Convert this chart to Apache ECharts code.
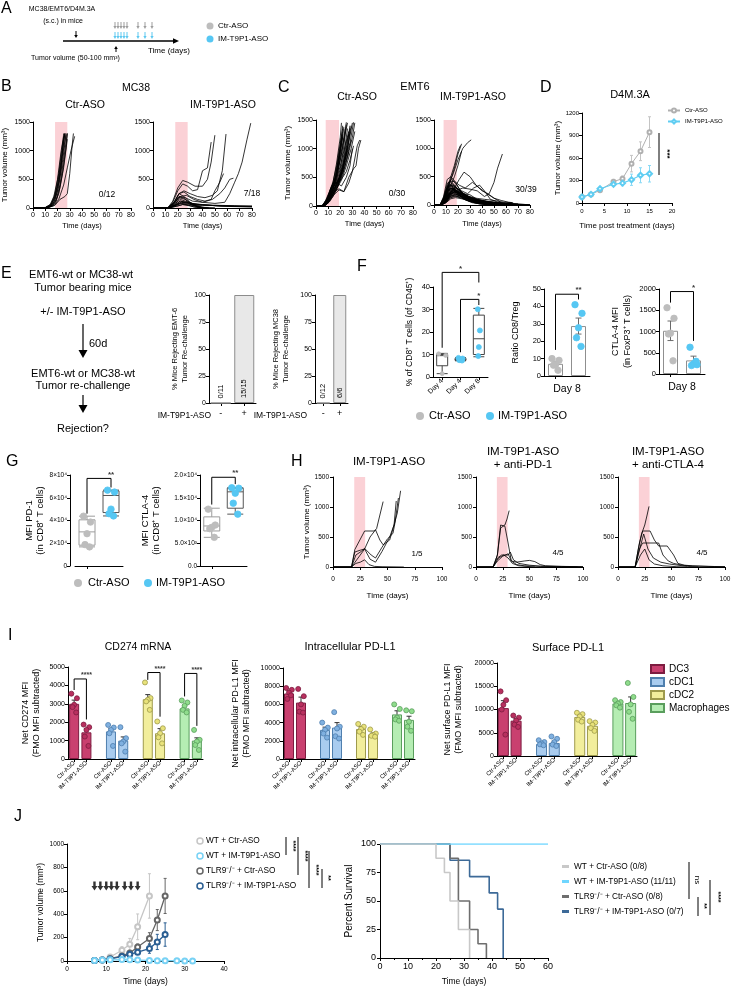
<!DOCTYPE html>
<html>
<head>
<meta charset="utf-8">
<script src="https://cdn.jsdelivr.net/npm/echarts/dist/echarts.min.js"></script>
<style>
html,body{margin:0;padding:0;background:#fff;}
#chart{width:733px;height:989px;}
</style>
</head>
<body>
<div id="chart"></div>
<script>
// ================= DATA =================
// Panel B: MC38 individual tumour curves, each line = [day, mm3, day, mm3, ...]
const mc38CtrLines = [
 [0,0,10,5,14,30,17,100,20,300,23,700,25,1300],
 [0,0,10,5,14,40,17,150,20,400,23,850,26,1300],
 [0,0,10,5,15,50,18,180,21,450,24,900,27,1300],
 [0,0,11,5,15,40,18,140,21,380,24,800,27,1280],
 [0,0,10,5,14,60,17,200,20,500,23,1000,25,1250],
 [0,0,11,5,15,30,18,100,21,250,24,600,27,1050,28,1300],
 [0,0,10,5,14,40,18,200,21,500,24,950,26,1300],
 [0,0,11,5,16,50,19,150,22,400,25,850,28,1300],
 [0,0,12,5,16,40,19,120,22,350,25,700,28,1200],
 [0,0,10,10,15,70,18,250,21,600,24,1100,26,1300],
 [0,0,12,5,18,50,22,150,26,200,28,250,30,600,32,1100,33,1300],
 [0,0,12,5,17,40,21,150,25,400,28,700,31,1000,34,1250]
];
const mc38ImLines = [
 [0,0,12,2,16,100,20,300,24,420,28,380,32,300,36,320,40,650,44,700,47,1150],
 [0,0,12,2,16,120,20,350,24,480,28,450,34,380,40,380,44,500,47,800,50,1270],
 [0,0,12,2,17,80,21,250,25,300,30,250,36,200,42,180,48,220,52,300,56,650,59,1290],
 [0,0,12,2,17,60,21,200,26,180,32,120,40,100,48,150,54,250,58,350,62,500,65,520],
 [0,0,13,2,18,60,22,200,27,220,33,150,40,100,50,80,58,100,62,250,66,450,69,600,72,800,76,1200,79,1480],
 [0,0,12,2,17,100,21,250,25,280,30,200,36,150,42,120,47,150,50,300,54,450,57,600],
 [0,0,13,2,18,80,22,150,26,120,32,80,40,60,50,40,60,30,70,25,80,20],
 [0,0,13,2,18,50,22,120,27,100,34,70,42,50,52,40,62,35,72,30,80,25],
 [0,0,13,2,19,60,23,100,28,90,36,60,46,50,56,45,66,40,80,35],
 [0,0,13,2,18,40,23,80,28,70,35,60,45,50,55,30,65,25,80,20],
 [0,0,13,2,19,30,24,60,30,50,40,40,50,45,60,40,70,30,80,30],
 [0,0,12,2,17,100,21,250,25,200,30,100,35,40,40,10,50,0],
 [0,0,12,2,17,80,21,180,26,150,31,70,36,20,42,0],
 [0,0,13,2,18,60,22,120,27,100,32,50,38,10,45,0],
 [0,0,13,2,18,50,23,100,28,80,34,30,40,5,50,0],
 [0,0,13,2,18,40,22,80,27,60,33,20,40,0],
 [0,0,13,2,19,30,24,60,29,40,35,10,45,0],
 [0,0,12,2,17,90,21,200,25,170,30,90,36,30,44,0]
];
const mc38Shade = [18, 28];

// Panel C: EMT6 individual tumour curves
const emt6CtrLines = [
 [0,0,5,0,8,60,11,150,14,300,17,600,20,1000,22,1400],
 [0,0,5,0,8,80,11,200,14,400,17,750,20,1200,21,1450],
 [0,0,5,0,8,50,12,180,15,350,18,650,21,1050,23,1380],
 [0,0,6,0,9,70,12,200,16,420,19,800,22,1300],
 [0,0,5,0,8,100,11,250,14,420,17,700,20,1100,22,1350],
 [0,0,6,0,9,60,12,160,16,330,20,650,23,1050,25,1420],
 [0,0,5,0,8,90,11,220,15,380,18,600,21,900,24,1300,25,1460],
 [0,0,6,0,9,50,13,170,16,300,19,500,23,900,26,1350],
 [0,0,5,0,9,80,12,250,15,450,18,750,20,1000,22,1200],
 [0,0,6,0,10,100,13,300,16,500,20,800,24,1250,26,1450],
 [0,0,6,0,9,40,13,150,17,280,21,550,25,950,28,1400],
 [0,0,5,0,8,70,12,200,16,400,20,700,24,1050,27,1300],
 [0,0,6,0,9,60,13,220,17,380,21,600,25,900,29,1400],
 [0,0,6,0,10,80,14,280,18,420,22,650,26,1000,30,1450],
 [0,0,5,0,9,100,12,300,16,380,20,500,24,800,28,1100,31,1460],
 [0,0,6,0,10,70,14,200,18,350,22,550,26,850,30,1200,32,1450],
 [0,0,6,0,9,50,13,180,17,300,21,450,25,700,29,1000,32,1300],
 [0,0,7,0,10,60,14,220,18,400,22,600,26,900,29,1150],
 [0,0,6,0,10,90,14,250,18,380,22,500,25,600,28,800,31,1050],
 [0,0,5,0,9,120,13,350,17,400,21,350,25,500,28,700,30,1000],
 [0,0,6,0,10,150,14,400,18,420,22,600,26,1000,28,1300],
 [0,0,7,0,11,100,15,250,19,300,23,250,27,400,30,600,34,1050,36,1150],
 [0,0,7,0,11,80,15,200,19,280,23,250,27,500,31,650,33,700,35,1000,37,1150],
 [0,0,6,0,10,100,13,300,16,500,19,900,21,1200],
 [0,0,6,0,10,80,14,300,17,550,20,950,22,1250],
 [0,0,5,0,9,60,13,250,17,450,20,850,23,1200,24,1350],
 [0,0,6,0,10,50,14,200,18,350,22,700,25,1100,27,1250],
 [0,0,7,0,11,100,15,300,19,500,23,800,26,1050],
 [0,0,6,0,10,130,13,350,16,380,20,450,24,700,27,950],
 [0,0,7,0,11,70,15,200,19,420,23,750,26,1150,28,1350]
];
const emt6ImLines = [
 [0,0,5,0,8,100,11,300,14,500,17,700,20,950,22,1050],
 [0,0,5,0,8,80,11,250,14,450,17,650,20,900,23,1080],
 [0,0,5,0,8,120,12,350,16,550,20,800,24,1000,28,1100,31,1150],
 [0,0,6,0,9,100,13,300,17,500,20,700,23,950],
 [0,0,5,0,9,80,13,200,17,300,21,450,25,580,30,500,35,350,40,250,45,200,50,120,55,60],
 [0,0,6,0,10,60,14,180,18,250,24,300,30,280,36,250,42,150,46,200,50,400,53,650,57,900],
 [0,0,5,0,9,120,13,400,17,420,21,350,26,300,32,400,38,300,44,200,50,120,56,80,62,50,66,40],
 [0,0,6,0,10,90,14,250,18,300,23,250,28,200,33,300,38,350,42,250,47,100,53,50,60,30,64,40],
 [0,0,6,0,10,60,14,200,18,230,23,200,29,150,35,120,42,100,50,80,58,50,65,40],
 [0,0,6,0,10,80,14,220,19,250,24,200,30,180,36,100,44,60,52,40,60,30,70,20],
 [0,0,5,0,8,100,11,300,14,350,18,250,23,150,28,80,35,30,45,0],
 [0,0,5,0,8,80,11,250,15,300,19,200,24,120,30,60,38,20,50,0],
 [0,0,5,0,8,120,12,400,15,450,19,350,24,200,30,100,38,40,48,0],
 [0,0,6,0,9,90,12,280,16,300,20,230,25,150,31,80,40,30,55,0],
 [0,0,6,0,9,60,12,200,16,250,20,200,25,130,32,60,42,20,60,0],
 [0,0,5,0,8,150,11,450,14,500,18,400,22,250,27,120,34,50,44,10,58,0],
 [0,0,5,0,9,100,12,300,16,330,20,260,26,170,33,90,42,40,55,10,70,0],
 [0,0,6,0,9,70,13,220,17,260,22,200,28,120,35,70,45,30,60,5,75,0],
 [0,0,6,0,10,50,13,180,17,200,21,170,27,110,35,60,45,20,60,0],
 [0,0,5,0,8,130,11,380,14,420,18,330,23,220,29,120,36,50,46,10,62,0],
 [0,0,6,0,9,80,12,250,16,280,20,220,26,150,33,90,42,50,52,20,66,0],
 [0,0,6,0,10,60,14,160,18,180,23,150,29,100,37,50,48,15,65,0],
 [0,0,5,0,9,110,12,320,16,350,20,280,25,200,31,120,39,60,50,20,68,0],
 [0,0,6,0,10,40,14,130,18,150,23,120,30,70,40,30,55,0],
 [0,0,5,0,8,90,12,260,15,300,19,230,24,160,30,90,38,40,50,10,64,0],
 [0,0,6,0,9,50,13,150,17,170,22,130,28,80,36,40,48,10,60,0],
 [0,0,6,0,10,70,14,200,18,220,23,180,29,130,36,80,46,40,58,15,72,0],
 [0,0,5,0,9,140,12,350,15,380,19,300,24,210,30,140,38,80,48,40,60,15,78,0],
 [0,0,6,0,10,60,14,170,18,190,22,160,28,110,35,70,45,40,58,20,75,0],
 [0,0,5,0,8,110,11,320,14,360,17,280,21,170,26,90,32,40,42,10,55,0],
 [0,0,6,0,9,90,13,260,17,280,21,220,27,150,34,100,44,60,56,30,70,10,80,0],
 [0,0,6,0,10,80,14,230,18,260,23,210,29,150,36,100,46,60,60,30,75,10,80,5],
 [0,0,5,0,9,70,13,200,17,230,22,190,28,130,35,90,44,50,55,25,68,10,80,0],
 [0,0,6,0,10,50,14,140,18,160,23,140,29,100,37,60,48,30,62,10,78,0],
 [0,0,5,0,9,100,12,280,16,300,20,240,26,160,33,110,42,70,52,40,64,20,80,5],
 [0,0,6,0,9,120,12,330,15,360,19,290,24,200,30,130,38,70,48,30,62,10,76,0],
 [0,0,6,0,10,40,14,110,18,130,23,110,30,70,40,30,52,10,65,0],
 [0,0,5,0,8,70,12,190,16,220,20,180,26,120,33,70,43,30,55,10,68,0],
 [0,0,5,0,9,90,13,240,16,260,20,210,25,140,31,80,40,30,50,10,63,0]
];
const emt6Shade = [8, 19];

// Panel D: D4M.3A mean ± SEM
const d4Days = [0, 2, 4, 7, 9, 11, 13, 15];
const d4Ctr = [80, 115, 170, 285, 325, 525, 690, 945];
const d4CtrErr = [10, 15, 20, 30, 35, 110, 125, 205];
const d4Im = [80, 115, 190, 250, 265, 310, 370, 390];
const d4ImErr = [10, 15, 20, 30, 35, 75, 100, 110];

// Panel E: re-challenge
const eCats = ['-', '+'];
const eEmt6 = [0, 100];
const eEmt6Lbl = ['0/11', '15/15'];
const eMc38 = [0, 100];
const eMc38Lbl = ['0/12', '6/6'];

// Panel F
const f1Cats = ['Day 4', 'Day 4', 'Day 8'];
const f1Box = [[1.5, 5, 9.5, 10, 10.5], [7.2, 7.4, 7.8, 8.3, 8.6], [9, 10, 17, 27.5, 30.5]];
const f1CtrD4 = [10.3, 9.6, 1.5];
const f1ImD4 = [8.5, 8.2, 7.8, 7.5, 7.3];
const f1ImD8 = [30.1, 20.7, 13.3, 9.3];
const f1Sig = [[0, 2, 46.5, 13, 42, '*'], [1, 2, 34.5, 11, 32, '*']];
const f2Cats = ['Ctr-ASO', 'IM-T9P1-ASO'];
const f2Mean = [7, 28.7];
const f2Err = [1.2, 4.6];
const f2Ctr = [10, 9, 6.7, 6.2, 3.3];
const f2Im = [41, 36, 27.7, 22, 17];
const f2Sig = [0, 1, 47, 15, 44, '**'];
const f3Mean = [1017, 320];
const f3Err = [230, 100];
const f3Ctr = [1560, 1310, 960, 940, 310];
const f3Im = [630, 220, 240, 200, 300];
const f3Sig = [0, 1, 1940, 1680, 780, '*'];

// Panel G
const gCats = ['Ctr-ASO', 'IM-T9P1-ASO'];
const gPdBox = [[16800, 18300, 30000, 40600, 43800], [44000, 47000, 62000, 66000, 66700]];
const gPdCtr = [43800, 38600, 28400, 18800, 16800];
const gPdIm = [66700, 65000, 50000, 46000, 44000];
const gPdTicks = ['0', '2×10⁴', '4×10⁴', '6×10⁴', '8×10⁴'];
const gPdSig = [0, 1, 77000, 46000, 69000, '**'];
const gCtBox = [[6300, 7700, 8800, 10800, 12700], [11400, 12700, 16300, 17100, 17200]];
const gCtCtr = [12500, 9000, 8500, 8200, 6300];
const gCtIm = [17200, 17100, 16000, 13800, 11400];
const gCtTicks = ['0.0', '5.0×10³', '1.0×10⁴', '1.5×10⁴', '2.0×10⁴'];
const gCtSig = [0, 1, 19500, 13500, 18000, '**'];

// Panel H: individual curves (5 mice each)
const hImLines = [
 [0,0,17,0,20,290,29,600,38,600,40,640,46,1090],
 [0,0,17,0,20,250,25,280,29,300,34,500,39,620,43,450,46,370,52,450,56,700,58,1100],
 [0,0,17,0,21,200,26,260,29,310,35,200,39,150,45,330,50,470,55,560,57,750,60,1150],
 [0,0,17,0,21,100,25,200,29,300,34,130,39,80,45,260,52,500,56,700,59,900,62,1270],
 [0,0,17,0,21,60,25,80,29,120,33,40,38,10,45,5,65,0]
];
const hPd1Lines = [
 [0,0,16,0,20,200,23,650,27,700,29,800,31,940],
 [0,0,16,0,20,200,23,700,27,680,30,400,33,100,38,80,45,100,50,110,55,90,60,40,65,20,80,10,100,5],
 [0,0,16,0,20,150,24,200,30,200,32,250,35,120,40,60,50,30,60,15,75,10,100,5],
 [0,0,16,0,20,100,25,180,30,220,33,100,38,40,45,20,60,10,80,5,95,0],
 [0,0,16,0,21,150,26,200,30,150,34,60,40,20,55,0]
];
const hCtlaLines = [
 [0,0,16,0,19,300,22,550,25,700,27,850,29,1010],
 [0,0,16,0,20,400,23,600,30,600,34,450,38,350,46,350,52,200,56,60,62,30,70,20,85,10,100,5],
 [0,0,16,0,20,300,23,400,38,400,42,200,47,100,52,60,60,30,70,15,90,8,100,5],
 [0,0,16,0,21,350,24,550,28,300,33,150,40,80,48,50,56,30,65,10,75,0],
 [0,0,16,0,21,200,25,300,29,120,34,50,42,20,55,5,65,0]
];
const hShade = [19.5, 29.5];

// Panel I
const iGroups = ['DC3', 'cDC1', 'cDC2', 'Macrophages'];
const iCats = ['Ctr-ASO','IM-T9P1-ASO','','Ctr-ASO','IM-T9P1-ASO','','Ctr-ASO','IM-T9P1-ASO','','Ctr-ASO','IM-T9P1-ASO'];
const iSlots = [[0, 1], [3, 4], [6, 7], [9, 10]];
const cd274Mean = [[3000, 1450], [1500, 1000], [3250, 1400], [2750, 1000]];
const cd274Err = [[200, 200], [150, 200], [250, 250], [150, 150]];
const cd274Pts = [
 [[3550, 3300, 2950, 2820, 2530], [1870, 1730, 1580, 1220, 710]],
 [[1850, 1710, 1580, 1400, 710], [1730, 1130, 950, 850, 400]],
 [[4160, 3310, 3220, 3130, 2670], [2040, 1670, 1400, 1180, 850]],
 [[3180, 3070, 2890, 2670, 2530], [1580, 1040, 950, 760, 490]]
];
const cd274Sig = [[0, 1, 4350, 3750, 2150, '****'], [6, 7, 4700, 4300, 2300, '****'], [9, 10, 4650, 3400, 1800, '****']];
const icMean = [[7200, 6200], [3200, 3450], [3300, 2700], [4900, 4300]];
const icErr = [[300, 600], [300, 550], [250, 150], [400, 400]];
const icPts = [
 [[7800, 7600, 7300, 6600, 7000], [7700, 6900, 6000, 5200, 5100]],
 [[4000, 3450, 3200, 2800, 2350], [5150, 3550, 3350, 2500, 2250]],
 [[3850, 3550, 3300, 3000, 2650], [3250, 2800, 2650, 2550, 2450]],
 [[6000, 5500, 4550, 4350, 4200], [5350, 5250, 4100, 3550, 3100]]
];
const sfMean = [[10300, 7600], [2600, 2800], [8400, 6500], [11300, 11400]];
const sfErr = [[1600, 500], [250, 400], [300, 400], [400, 1300]];
const sfPts = [
 [[13900, 12000, 11000, 10000, 4600], [8700, 8250, 7650, 6750, 6250]],
 [[3400, 3000, 2700, 2500, 2300], [4200, 3700, 3000, 2450, 2150]],
 [[9300, 9000, 8500, 7800, 7400], [7500, 7200, 6700, 6000, 5400]],
 [[12000, 11600, 11300, 10900, 10400], [15700, 12700, 11100, 9500, 8000]]
];

// Panel J (left): mean ± SEM tumour volume
const jNames = ['WT + Ctr-ASO', 'WT + IM-T9P1-ASO', 'TLR9⁻/⁻ + Ctr-ASO', 'TLR9⁻/⁻ + IM-T9P1-ASO'];
const jWtCtrDays = [7, 9, 11, 14, 16, 18, 21];
const jWtCtr = [5, 10, 34, 92, 143, 292, 556];
const jWtCtrErr = [2, 4, 8, 30, 50, 110, 190];
const jWtImDays = [7, 9, 11, 14, 16, 18, 21, 23, 25, 28, 30, 32];
const jWtIm = [5, 8, 10, 12, 10, 8, 5, 3, 2, 2, 1, 1];
const jWtImErr = [2, 3, 4, 5, 5, 4, 3, 2, 1, 1, 1, 1];
const jTlrDays = [7, 9, 11, 14, 16, 18, 21, 23, 25];
const jTlrCtr = [5, 8, 20, 43, 69, 120, 192, 350, 556];
const jTlrCtrErr = [2, 3, 6, 12, 18, 25, 50, 90, 150];
const jTlrIm = [5, 8, 18, 38, 57, 75, 106, 163, 226];
const jTlrImErr = [2, 3, 5, 10, 15, 20, 40, 65, 100];
const jTreatDays = [7, 8.5, 10, 11.3, 12.7, 14.7, 16.3, 18];
// Panel J (right): Kaplan-Meier survival
const kmNames = ['WT + Ctr-ASO (0/8)', 'WT + IM-T9P1-ASO (11/11)', 'TLR9⁻/⁻ + Ctr-ASO (0/8)', 'TLR9⁻/⁻ + IM-T9P1-ASO (0/7)'];
const kmWtCtr = [[0, 100], [20, 87.5], [23, 75], [25, 50], [28, 25], [32, 0]];
const kmWtIm = [[0, 100], [60, 100]];
const kmTlrCtr = [[0, 100], [25, 87.5], [28, 50], [32, 25], [35, 12.5], [38, 0]];
const kmTlrIm = [[0, 100], [25, 85.7], [32, 71.4], [39, 57.1], [42, 42.9], [44, 0]];

// ================= BUILD =================
const FONT = '"Liberation Sans", Arial, Helvetica, sans-serif';
const grid = [], xAxis = [], yAxis = [], series = [], graphic = [], legend = [];
const GRAY = '#bdbdbd', BLUE = '#56c7f3';

function merge(a, b) {
  for (const k in b) {
    const v = b[k];
    if (v && typeof v === 'object' && !Array.isArray(v) && a[k] && typeof a[k] === 'object' && !Array.isArray(a[k])) merge(a[k], v);
    else a[k] = v;
  }
  return a;
}
function addGrid(l, t, w, h) { grid.push({left: l, top: t, width: w, height: h, containLabel: false, outerBoundsMode: 'none'}); return grid.length - 1; }
function plain(v) { return String(v); }
function baseAxis(gi, type) {
  return {gridIndex: gi, type: type,
    axisLine: {show: true, onZero: false, lineStyle: {color: '#000', width: 1}},
    axisTick: {show: true, inside: false, length: 3, lineStyle: {color: '#000', width: 1}},
    axisLabel: {show: true, fontSize: 7, color: '#000', fontFamily: FONT, margin: 3, formatter: plain},
    splitLine: {show: false}, splitArea: {show: false},
    nameTextStyle: {fontSize: 8, color: '#000', fontFamily: FONT}};
}
function addX(gi, type, o) { xAxis.push(merge(baseAxis(gi, type), o || {})); return xAxis.length - 1; }
function addY(gi, type, o) { yAxis.push(merge(baseAxis(gi, type), o || {})); return yAxis.length - 1; }

function T(x, y, text, size, o) {
  o = o || {};
  const st = {text: text, fill: o.color || '#000', fontSize: size, fontFamily: FONT, fontWeight: o.bold ? 'bold' : 'normal',
    align: o.align || 'center', verticalAlign: o.va || 'middle'};
  if (o.lh) st.lineHeight = o.lh;
  graphic.push({type: 'text', x: x, y: y, rotation: o.rot || 0, silent: true, z: 100, style: st});
}
function L(x1, y1, x2, y2, color, w) {
  graphic.push({type: 'line', silent: true, z: 100, shape: {x1: x1, y1: y1, x2: x2, y2: y2}, style: {stroke: color || '#000', lineWidth: w || 1}});
}
function P(points, color) { graphic.push({type: 'polygon', silent: true, z: 100, shape: {points: points}, style: {fill: color || '#000'}}); }
function Cir(cx, cy, r, fill, stroke, lw) {
  graphic.push({type: 'circle', silent: true, z: 100, shape: {cx: cx, cy: cy, r: r}, style: {fill: fill, stroke: stroke || null, lineWidth: lw || 0}});
}
function arrowDown(x, y1, y2, color, hw) { hw = hw || 1.8; L(x, y1, x, y2 - 2, color, 1); P([[x - hw, y2 - 3], [x + hw, y2 - 3], [x, y2]], color); }
function arrowUp(x, y1, y2, color, hw) { hw = hw || 1.8; L(x, y1 + 2, x, y2, color, 1); P([[x - hw, y1 + 3], [x + hw, y1 + 3], [x, y1]], color); }

function spaghetti(xi, yi, lines, shade) {
  lines.forEach(function (l, n) {
    const d = [];
    for (let i = 0; i < l.length; i += 2) d.push([l[i], l[i + 1]]);
    const s = {type: 'line', xAxisIndex: xi, yAxisIndex: yi, data: d, symbol: 'none', silent: true, z: 3,
      lineStyle: {color: '#000', width: 0.8}};
    if (n === 0) s.markArea = {silent: true, z: 1, itemStyle: {color: '#fbd1d6'}, data: [[{xAxis: shade[0]}, {xAxis: shade[1]}]]};
    series.push(s);
  });
}
function tumorPanel(l, t, w, h, xmax, xint, lines, shade, yName, o) {
  const g = addGrid(l, t, w, h);
  const xi = addX(g, 'value', {min: 0, max: xmax, interval: xint, name: 'Time (days)', nameLocation: 'middle', nameGap: o.xGap,
    nameTextStyle: {fontSize: o.xnfs || 8}, axisLabel: {fontSize: o.fs, margin: o.xm || 4}});
  const yi = addY(g, 'value', {min: 0, max: 1500, interval: 500, name: yName, nameLocation: 'middle', nameGap: o.yGap,
    nameTextStyle: {fontSize: o.nfs || 8}, axisLabel: {fontSize: o.fs, margin: o.ym || 3}});
  spaghetti(xi, yi, lines, shade);
}
function errBars(xi, yi, xs, means, errs, color, both, cap, lw) {
  const data = xs.map(function (x, i) { return [x, means[i], errs[i]]; });
  series.push({type: 'custom', xAxisIndex: xi, yAxisIndex: yi, silent: true, z: 4, data: data,
    renderItem: function (p, api) {
      const x = api.value(0), m = api.value(1), e = api.value(2);
      const a = api.coord([x, m + e]), b = api.coord([x, both ? m - e : m]);
      const st = {stroke: color, lineWidth: lw || 1};
      const ch = [{type: 'line', shape: {x1: a[0], y1: a[1], x2: b[0], y2: b[1]}, style: st},
                  {type: 'line', shape: {x1: a[0] - cap, y1: a[1], x2: a[0] + cap, y2: a[1]}, style: st}];
      if (both) ch.push({type: 'line', shape: {x1: b[0] - cap, y1: b[1], x2: b[0] + cap, y2: b[1]}, style: st});
      return {type: 'group', children: ch};
    }});
}
const JIT = [-3.5, 3.5, 0, -2, 2.5, -4, 4];
function dots(xi, yi, x, vals, o) {
  series.push({type: 'scatter', xAxisIndex: xi, yAxisIndex: yi, silent: true, z: 6, symbol: 'circle', symbolSize: o.size,
    itemStyle: {color: o.fill, borderColor: o.stroke || o.fill, borderWidth: o.bw || 0.8, opacity: 1},
    data: vals.map(function (v, i) { return {value: [x, v], symbolOffset: [JIT[i % JIT.length] * (o.j === undefined ? 1 : o.j), 0]}; })});
}
function sig(xi, yi, s, fs) {
  series.push({type: 'line', xAxisIndex: xi, yAxisIndex: yi, data: [[s[0], s[3]], [s[0], s[2]], [s[1], s[2]], [s[1], s[4]]],
    symbol: 'none', clip: false, silent: true, z: 5, lineStyle: {color: '#000', width: 1}});
  series.push({type: 'scatter', xAxisIndex: xi, yAxisIndex: yi, data: [[(s[0] + s[1]) / 2, s[2]]], symbolSize: 0, clip: false, silent: true, z: 5,
    label: {show: true, position: 'top', distance: 0, formatter: s[5], fontSize: fs || 8, color: '#000', fontFamily: FONT, fontWeight: 'bold'}});
}

// ---------- Panel A ----------
T(1, 1, 'A', 16, {align: 'left', va: 'top'});
T(62, 9, 'MC38/EMT6/D4M.3A', 7);
T(63, 21, '(s.c.) in mice', 7);
arrowDown(76, 31, 38, '#000');
L(63, 41, 174, 41, '#000', 1.3);
P([[173, 38.3], [179, 41], [173, 43.7]], '#000');
[115, 118, 121, 124, 127, 138, 145, 152].forEach(function (x) { arrowDown(x, 22, 29, '#9d9d9d', 1.6); arrowDown(x, 32, 39, '#5cc8f0', 1.6); });
arrowUp(116, 46, 52, '#000');
T(148, 51, 'Time (days)', 8, {align: 'left'});
T(31, 58, 'Tumor volume (50-100 mm³)', 7, {align: 'left'});
Cir(210, 26, 3.5, GRAY); T(218, 26, 'Ctr-ASO', 8, {align: 'left'});
Cir(210, 39, 3.5, BLUE); T(218, 39, 'IM-T9P1-ASO', 8, {align: 'left'});

// ---------- Panel B ----------
T(1, 79, 'B', 16, {align: 'left', va: 'top'});
T(136, 88, 'MC38', 10.5);
T(85, 105, 'Ctr-ASO', 10.5);
T(223, 105, 'IM-T9P1-ASO', 10.5);
const bcOpt = {xGap: 14, yGap: 24, fs: 7, xnfs: 7.5, nfs: 8};
tumorPanel(33, 122, 98, 86, 80, 10, mc38CtrLines, mc38Shade, 'Tumor volume (mm³)', bcOpt);
tumorPanel(153, 122, 99, 86, 80, 10, mc38ImLines, mc38Shade, '', bcOpt);
T(107, 195, '0/12', 8.5);
T(252, 194, '7/18', 8.5);

// ---------- Panel C ----------
T(278, 80, 'C', 16, {align: 'left', va: 'top'});
T(415, 87, 'EMT6', 11);
T(357, 97, 'Ctr-ASO', 10.5);
T(473, 97, 'IM-T9P1-ASO', 10.5);
tumorPanel(316, 120, 97, 86, 80, 10, emt6CtrLines, emt6Shade, 'Tumor volume (mm³)', bcOpt);
tumorPanel(434, 120, 96, 85, 80, 10, emt6ImLines, emt6Shade, '', {xGap: 15, yGap: 24, fs: 7, xnfs: 7.5});
T(397, 194, '0/30', 8.5);
T(526, 190, '30/39', 8.5);

// ---------- Panel D ----------
T(540, 80, 'D', 16, {align: 'left', va: 'top'});
T(630, 95, 'D4M.3A', 11);
const gD = addGrid(582, 113, 90, 90);
const xD = addX(gD, 'value', {min: 0, max: 20, interval: 5, axisLabel: {fontSize: 6, margin: 5}, name: 'Time post treatment (days)', nameLocation: 'middle', nameGap: 19, nameTextStyle: {fontSize: 8}});
const yD = addY(gD, 'value', {min: 0, max: 1200, interval: 300, axisLabel: {fontSize: 6}, name: 'Tumor volume (mm³)', nameLocation: 'middle', nameGap: 17, nameTextStyle: {fontSize: 8}});
errBars(xD, yD, d4Days, d4Ctr, d4CtrErr, '#c4c4c4', true, 1.5);
errBars(xD, yD, d4Days, d4Im, d4ImErr, '#8ad9f5', true, 1.5);
series.push({type: 'line', name: 'Ctr-ASO', xAxisIndex: xD, yAxisIndex: yD, silent: true, z: 5,
  data: d4Days.map(function (d, i) { return [d, d4Ctr[i]]; }), symbol: 'emptyCircle', symbolSize: 4,
  lineStyle: {color: '#b0b0b0', width: 1}, itemStyle: {color: '#b0b0b0', borderWidth: 1}});
series.push({type: 'line', name: 'IM-T9P1-ASO', xAxisIndex: xD, yAxisIndex: yD, silent: true, z: 6,
  data: d4Days.map(function (d, i) { return [d, d4Im[i]]; }), symbol: 'emptyDiamond', symbolSize: 5,
  lineStyle: {color: '#5fcdf2', width: 1.2}, itemStyle: {color: '#5fcdf2', borderWidth: 1.2}});
legend.push({data: ['Ctr-ASO', 'IM-T9P1-ASO'], left: 667, top: 107, orient: 'vertical', selectedMode: false, padding: 0,
  itemWidth: 12, itemHeight: 5, itemGap: 4, textStyle: {fontSize: 6, lineHeight: 7, fontFamily: FONT, color: '#000'}});
L(659, 133, 659, 175, '#000', 1);
T(667, 154, '***', 8, {rot: -Math.PI / 2, bold: true});

// ---------- Panel E ----------
T(1, 266, 'E', 16, {align: 'left', va: 'top'});
T(81, 275, 'EMT6-wt or MC38-wt', 11);
T(83, 288, 'Tumor bearing mice', 11);
T(83, 312, '+/- IM-T9P1-ASO', 11);
L(83, 324, 83, 352, '#000', 1.2); P([[78.5, 350], [87.5, 350], [83, 358]], '#000');
T(89, 344, '60d', 11, {align: 'left'});
T(83, 374, 'EMT6-wt or MC38-wt', 11);
T(83, 386, 'Tumor re-challenge', 11);
L(83, 395, 83, 407, '#000', 1.2); P([[78.5, 405], [87.5, 405], [83, 413]], '#000');
T(83, 429, 'Rejection?', 11);
function eBar(l, w, vals, lbls, yName, gap, bw) {
  const g = addGrid(l, 295, w, 108);
  const xi = addX(g, 'category', {data: eCats, axisTick: {alignWithLabel: true}, axisLabel: {fontSize: 9, margin: 6}});
  const yi = addY(g, 'value', {min: 0, max: 100, interval: 25, axisLabel: {fontSize: 7}, name: yName, nameLocation: 'middle', nameGap: gap,
    nameTextStyle: {fontSize: 7.5, lineHeight: 10}});
  series.push({type: 'bar', xAxisIndex: xi, yAxisIndex: yi, data: vals, barWidth: bw, silent: true,
    itemStyle: {color: '#e8e8e8', borderColor: '#8c8c8c', borderWidth: 1},
    label: {show: true, position: 'insideBottom', rotate: 90, align: 'left', verticalAlign: 'middle', distance: 5, fontSize: 7.5,
      color: '#000', fontFamily: FONT, formatter: function (p) { return lbls[p.dataIndex]; }}});
}
eBar(209, 47, eEmt6, eEmt6Lbl, '% Mice Rejecting EMT-6\nTumor Re-challenge', 17, 20);
eBar(315, 33, eMc38, eMc38Lbl, '% Mice Rejecting MC38\nTumor Re-challenge', 24, 13);
T(211, 416, 'IM-T9P1-ASO', 8.5, {align: 'right'});
T(307, 416, 'IM-T9P1-ASO', 8.5, {align: 'right'});

// ---------- Panel F ----------
T(357, 259, 'F', 16, {align: 'left', va: 'top'});
const gF1 = addGrid(433, 287, 55, 90);
const xF1 = addX(gF1, 'category', {data: f1Cats, axisTick: {alignWithLabel: true}, axisLabel: {rotate: 45, fontSize: 7, margin: 3}});
const yF1 = addY(gF1, 'value', {min: 0, max: 40, interval: 10, axisLabel: {fontSize: 7.5}, name: '% of CD8⁺ T cells (of CD45⁺)',
  nameLocation: 'middle', nameGap: 19, nameTextStyle: {fontSize: 8.5}});
series.push({type: 'boxplot', xAxisIndex: xF1, yAxisIndex: yF1, silent: true, z: 3, boxWidth: [11, 11],
  itemStyle: {color: '#fff', borderColor: '#444', borderWidth: 1}, data: f1Box});
dots(xF1, yF1, 0, f1CtrD4, {size: 4, fill: GRAY});
dots(xF1, yF1, 1, f1ImD4, {size: 5, fill: BLUE, j: 0.6});
dots(xF1, yF1, 2, f1ImD8, {size: 5, fill: BLUE, j: 0.3});
f1Sig.forEach(function (s) { sig(xF1, yF1, s, 8); });

function fBar(l, t, h, max, intv, mean, err, ctr, im, s, yName, gap, fsName) {
  const g = addGrid(l, t, 46, h);
  const xi = addX(g, 'category', {data: f2Cats, axisTick: {alignWithLabel: true}, axisLabel: {show: false}, name: 'Day 8', nameLocation: 'middle', nameGap: 8,
    nameTextStyle: {fontSize: 10.5}});
  const yi = addY(g, 'value', {min: 0, max: max, interval: intv, axisLabel: {fontSize: 7.5}, name: yName, nameLocation: 'middle', nameGap: gap,
    nameTextStyle: {fontSize: fsName, lineHeight: 12}});
  series.push({type: 'bar', xAxisIndex: xi, yAxisIndex: yi, data: mean, barWidth: 15, silent: true, z: 2,
    itemStyle: {color: '#fff', borderColor: '#8f8f8f', borderWidth: 1}});
  errBars(xi, yi, [0, 1], mean, err, '#6a6a6a', true, 3);
  dots(xi, yi, 0, ctr, {size: 6.5, fill: GRAY});
  dots(xi, yi, 1, im, {size: 6.5, fill: BLUE});
  sig(xi, yi, s, 8);
}
fBar(544, 289, 87, 50, 10, f2Mean, f2Err, f2Ctr, f2Im, f2Sig, 'Ratio CD8/Treg', 22, 9);
fBar(659, 289, 85, 2000, 500, f3Mean, f3Err, f3Ctr, f3Im, f3Sig, 'CTLA-4 MFI\n(in FoxP3⁺ T cells)', 25, 9);
Cir(420, 416, 4, GRAY); T(429, 416, 'Ctr-ASO', 11, {align: 'left'});
Cir(490, 416, 4, BLUE); T(498, 416, 'IM-T9P1-ASO', 11, {align: 'left'});

// ---------- Panel G ----------
T(6, 454, 'G', 16, {align: 'left', va: 'top'});
function gBox(l, w, max, intv, ticks, box, ctr, im, s, yName, gap, off) {
  const g = addGrid(l, 475, w, 91);
  const xi = addX(g, 'category', {data: gCats, axisTick: {alignWithLabel: true}, axisLabel: {show: false}});
  const yi = addY(g, 'value', {offset: off, min: 0, max: max, interval: intv,
    axisLabel: {fontSize: 6.5, formatter: function (v) { return ticks[Math.round(v / intv)]; }},
    name: yName, nameLocation: 'middle', nameGap: gap, nameTextStyle: {fontSize: 9.5, lineHeight: 11}});
  series.push({type: 'boxplot', xAxisIndex: xi, yAxisIndex: yi, silent: true, z: 3, boxWidth: [16, 16],
    itemStyle: {color: '#fff', borderColor: '#777', borderWidth: 1},
    data: [{value: box[0], itemStyle: {borderColor: '#9c9c9c'}}, {value: box[1], itemStyle: {borderColor: '#555'}}]});
  dots(xi, yi, 0, ctr, {size: 6.5, fill: GRAY});
  dots(xi, yi, 1, im, {size: 6.5, fill: BLUE});
  sig(xi, yi, s, 8);
}
gBox(75, 48, 80000, 20000, gPdTicks, gPdBox, gPdCtr, gPdIm, gPdSig, 'MFI PD-1\n(in CD8⁺ T cells)', 23, 5);
gBox(200, 47, 20000, 5000, gCtTicks, gCtBox, gCtCtr, gCtIm, gCtSig, 'MFI CTLA-4\n(in CD8⁺ T cells)', 38, 0);
Cir(78, 583, 4, GRAY); T(88, 583, 'Ctr-ASO', 11, {align: 'left'});
Cir(148, 583, 4, BLUE); T(156, 583, 'IM-T9P1-ASO', 11, {align: 'left'});

// ---------- Panel H ----------
T(291, 454, 'H', 16, {align: 'left', va: 'top'});
T(389, 462, 'IM-T9P1-ASO', 11.5);
T(523, 452, 'IM-T9P1-ASO', 11.5); T(523, 465, '+ anti-PD-1', 11.5);
T(668, 452, 'IM-T9P1-ASO', 11.5); T(668, 465, '+ anti-CTLA-4', 11.5);
const hOpt = {xGap: 25, yGap: 21, fs: 6.5, xm: 9, ym: 4, nfs: 8, xnfs: 8};
tumorPanel(333, 477, 109, 90, 100, 25, hImLines, hShade, 'Tumor volume (mm³)', hOpt);
tumorPanel(476, 477, 107, 90, 100, 25, hPd1Lines, hShade, '', hOpt);
tumorPanel(618, 477, 107, 90, 100, 25, hCtlaLines, hShade, '', hOpt);
T(417, 554, '1/5', 8);
T(558, 553, '4/5', 8);
T(702, 553, '4/5', 8);

// ---------- Panel I ----------
T(8, 628, 'I', 16, {align: 'left', va: 'top'});
const iFill = ['#c9406f', '#a9ccef', '#f2ee9c', '#b5edb3'];
const iEdge = ['#7d1c40', '#4f7fae', '#9e9a4d', '#5a9e5d'];
const iDot = ['#b8305f', '#7fb0e0', '#e8e27a', '#8fdc8c'];
function iPlot(l, t, w, h, max, intv, yName, gap, mean, err, ptsArr, bw) {
  const g = addGrid(l, t, w, h);
  const xi = addX(g, 'category', {data: iCats, axisTick: {alignWithLabel: true, interval: function (i, v) { return v !== ''; }},
    axisLabel: {rotate: 45, fontSize: 6, margin: 3, interval: 0}});
  const yi = addY(g, 'value', {min: 0, max: max, interval: intv, axisLabel: {fontSize: 7}, name: yName, nameLocation: 'middle', nameGap: gap,
    nameTextStyle: {fontSize: 9, lineHeight: 11}});
  iGroups.forEach(function (gname, k) {
    const d = iCats.map(function () { return '-'; });
    d[iSlots[k][0]] = mean[k][0]; d[iSlots[k][1]] = mean[k][1];
    series.push({type: 'bar', name: gname, xAxisIndex: xi, yAxisIndex: yi, data: d, barWidth: bw, barGap: '-100%', silent: true, z: 2,
      itemStyle: {color: iFill[k], borderColor: iEdge[k], borderWidth: 1}});
    errBars(xi, yi, iSlots[k], mean[k], err[k], '#333', false, 2.5);
    dots(xi, yi, iSlots[k][0], ptsArr[k][0], {size: 5, fill: iDot[k], stroke: iEdge[k], bw: 0.8, j: 0.8});
    dots(xi, yi, iSlots[k][1], ptsArr[k][1], {size: 5, fill: iDot[k], stroke: iEdge[k], bw: 0.8, j: 0.8});
  });
  return [xi, yi];
}
T(138, 647, 'CD274 mRNA', 10.5);
const iA = iPlot(68, 667, 135, 92, 5000, 1000, 'Net CD274 MFI\n(FMO MFI subtracted)', 26, cd274Mean, cd274Err, cd274Pts, 10);
cd274Sig.forEach(function (s) { sig(iA[0], iA[1], s, 7); });
T(350, 647, 'Intracellular PD-L1', 11);
iPlot(283, 668, 132, 91, 10000, 2000, 'Net intracellular PD-L1 MFI\n(FMO MFI subtracted)', 31, icMean, icErr, icPts, 10);
T(568, 648, 'Surface PD-L1', 11);
iPlot(497, 663, 140, 93, 20000, 5000, 'Net surface PD-L1 MFI\n(FMO MFI subtracted)', 33, sfMean, sfErr, sfPts, 11);
legend.push({data: iGroups, left: 650, top: 664, orient: 'vertical', selectedMode: false, padding: 0, icon: 'rect',
  itemWidth: 13, itemHeight: 8, itemGap: 3, textStyle: {fontSize: 10, lineHeight: 10, fontFamily: FONT, color: '#000'}});

// ---------- Panel J ----------
T(14, 809, 'J', 16, {align: 'left', va: 'top'});
const jCols = ['#c6c6c6', '#78d2f5', '#666666', '#2a5e92'];
const gJ1 = addGrid(67, 844, 157, 117);
const xJ1 = addX(gJ1, 'value', {min: 0, max: 40, interval: 10, axisLabel: {fontSize: 6.5, margin: 5}, name: 'Time (days)', nameLocation: 'middle', nameGap: 16,
  nameTextStyle: {fontSize: 8.5}});
const yJ1 = addY(gJ1, 'value', {min: 0, max: 1000, interval: 200, axisLabel: {fontSize: 6.5}, name: 'Tumor volume (mm³)', nameLocation: 'middle', nameGap: 19,
  nameTextStyle: {fontSize: 8.5}});
function jLine(name, days, vals, errs, col, z) {
  errBars(xJ1, yJ1, days, vals, errs, col, true, 1.5);
  series.push({type: 'line', name: name, xAxisIndex: xJ1, yAxisIndex: yJ1, silent: true, z: z,
    data: days.map(function (d, i) { return [d, vals[i]]; }), symbol: 'emptyCircle', symbolSize: 5,
    lineStyle: {color: col, width: 1.3}, itemStyle: {color: col, borderWidth: 1.3}});
}
jLine(jNames[0], jWtCtrDays, jWtCtr, jWtCtrErr, jCols[0], 5);
jLine(jNames[2], jTlrDays, jTlrCtr, jTlrCtrErr, jCols[2], 6);
jLine(jNames[3], jTlrDays, jTlrIm, jTlrImErr, jCols[3], 7);
jLine(jNames[1], jWtImDays, jWtIm, jWtImErr, jCols[1], 8);
series.push({type: 'scatter', xAxisIndex: xJ1, yAxisIndex: yJ1, silent: true, z: 8,
  data: jTreatDays.map(function (d) { return [d, 640]; }),
  symbol: 'path://M3,0 H7 V6 H10 L5,12 L0,6 H3 Z', symbolSize: [6, 9], itemStyle: {color: '#000'}});
jNames.forEach(function (n, i) {
  Cir(200, 841 + 15 * i, 3, '#fff', jCols[i], 1.5);
  T(206, 841 + 15 * i, n, 8.3, {align: 'left'});
});
L(286, 837, 286, 855); T(293, 846, '****', 7, {rot: -Math.PI / 2, bold: true});
L(298, 837, 298, 875); T(305, 856, '****', 7, {rot: -Math.PI / 2, bold: true});
L(309, 851, 309, 888); T(316, 870, '****', 7, {rot: -Math.PI / 2, bold: true});
L(322, 869, 322, 888); T(328, 878, '**', 7, {rot: -Math.PI / 2, bold: true});

const gJ2 = addGrid(380, 844, 168, 114);
const xJ2 = addX(gJ2, 'value', {min: 0, max: 60, interval: 10, minorTick: {show: true, splitNumber: 2, length: 2, lineStyle: {color: '#000'}},
  axisLabel: {fontSize: 9, margin: 4}, name: 'Time (days)', nameLocation: 'middle', nameGap: 19, nameTextStyle: {fontSize: 8.5}});
const yJ2 = addY(gJ2, 'value', {min: 0, max: 100, interval: 25, axisLabel: {fontSize: 9, margin: 4}, name: 'Percent Survival', nameLocation: 'middle', nameGap: 26,
  nameTextStyle: {fontSize: 10}});
const kmCols = ['#c8c8c8', '#6fd6ff', '#6e6e6e', '#3d6a98'];
function km(name, data, col, z) {
  series.push({type: 'line', name: name, xAxisIndex: xJ2, yAxisIndex: yJ2, silent: true, z: z, step: 'end', data: data, symbol: 'none',
    lineStyle: {color: col, width: 1.6}, itemStyle: {color: col}});
}
km(kmNames[3], kmTlrIm, kmCols[3], 3);
km(kmNames[2], kmTlrCtr, kmCols[2], 4);
km(kmNames[1], kmWtIm, kmCols[1], 5);
km(kmNames[0], kmWtCtr, kmCols[0], 6);
legend.push({data: kmNames, left: 562, top: 861, orient: 'vertical', selectedMode: false, padding: 0, icon: 'rect',
  itemWidth: 7, itemHeight: 3, itemGap: 4, textStyle: {fontSize: 8.3, lineHeight: 11, fontFamily: FONT, color: '#000'}});
L(689, 862, 689, 899); T(697, 880, 'ns', 8, {rot: -Math.PI / 2});
L(698, 897, 698, 916); T(704, 906, '**', 7, {rot: -Math.PI / 2, bold: true});
L(710, 880, 710, 915); T(718, 897, '****', 7, {rot: -Math.PI / 2, bold: true});

// ================= RENDER =================
const chart = echarts.init(document.getElementById('chart'), null, {renderer: 'canvas'});
chart.setOption({
  animation: false,
  backgroundColor: '#fff',
  textStyle: {fontFamily: FONT},
  grid: grid, xAxis: xAxis, yAxis: yAxis, series: series, legend: legend, graphic: graphic
});
</script>
</body>
</html>
